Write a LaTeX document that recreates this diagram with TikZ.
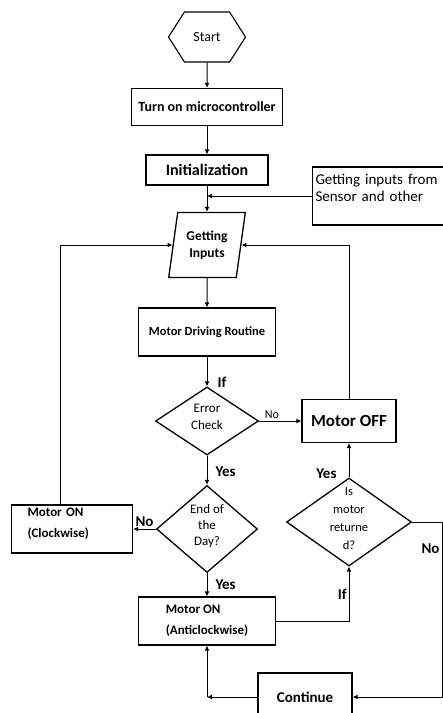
\documentclass[tikz,border=0pt]{standalone}
\usepackage{fontspec}
\setmainfont{Carlito}
\usetikzlibrary{arrows.meta,shapes.geometric,shapes.symbols}
\newcommand{\dtext}[1]{\smash{\begin{tabular}[c]{@{}c@{}}#1\end{tabular}}}
\tikzset{%
  >={Latex[width=5pt,length=5pt]},
  % Specifications for style of nodes:
            base/.style = {rectangle, draw=black, line width=1.3pt,
                           inner sep=2pt, text centered},
       startstop/.style = {base, signal, signal to=east and west,
                           signal pointer angle=115, minimum width=77pt,
                           minimum height=50pt, line width=1.1pt,
                           font=\fontsize{14}{16}\selectfont},
         process/.style = {base, font=\bfseries\fontsize{14}{16}\selectfont},
              io/.style = {base, trapezium, trapezium left angle=78,
                           trapezium right angle=102, trapezium stretches=true,
                           minimum width=77pt, minimum height=65pt,
                           font=\bfseries\fontsize{13.5}{17}\selectfont},
        decision/.style = {base, diamond, inner sep=0pt,
                           font=\fontsize{13}{16}\selectfont},
          source/.style = {base, align=left, inner sep=3pt, text width=131pt,
                           minimum height=58pt, font=\fontsize{15}{17}\selectfont},
           motor/.style = {base, align=left, minimum height=48pt,
                           font=\bfseries\fontsize{13}{21}\selectfont},
             lbl/.style = {font=\bfseries\fontsize{15}{18}\selectfont, inner sep=2pt},
}

\begin{document}
\begin{tikzpicture}[x=1pt, y=-1pt, line width=1pt,
    every node/.style={align=center}]
  \useasboundingbox (0,0) rectangle (443,713);
  \clip (0,0) rectangle (443,713);
  % Specification of nodes (position, etc.)
  \node (start)     [startstop] at (207,37) {Start};
  \node (turnon)    [process, node distance=70pt, below of=start,
                     minimum width=151pt, minimum height=37pt] {Turn on microcontroller};
  \node (init)      [process, node distance=63pt, below of=turnon,
                     minimum width=122pt, minimum height=30pt,
                     font=\bfseries\fontsize{16}{18}\selectfont] {Initialization};
  \node (getin)     [io, node distance=75pt, below of=init] {Getting\\Inputs};
  \node (routine)   [process, node distance=87pt, below of=getin,
                     minimum width=137pt, minimum height=48pt,
                     font=\bfseries\fontsize{12.5}{14}\selectfont] {Motor Driving Routine};
  \node (errchk)    [decision, node distance=89pt, below of=routine,
                     minimum width=103pt, minimum height=68pt,
                     font=\fontsize{13}{17}\selectfont] {\dtext{Error\\Check}};
  \node (endday)    [decision, node distance=108pt, below of=errchk,
                     minimum width=101pt, minimum height=87pt] {\dtext{End of\\the\\Day?}};
  \node (anticw)    [motor, node distance=92pt, below of=endday,
                     minimum width=137pt] {Motor ON\\(Anticlockwise)};
  \node (motoroff)  [process, node distance=142pt, right of=errchk,
                     minimum width=94pt, minimum height=43pt,
                     font=\bfseries\fontsize{17}{19}\selectfont] {Motor OFF};
  \node (isret)     [decision, node distance=101pt, below of=motoroff,
                     minimum width=125pt, minimum height=88pt,
                     font=\fontsize{12.5}{18}\selectfont] {\dtext{Is\\motor\\returne\\d?}};
  \node (clockwise) [motor, node distance=135pt, left of=endday,
                     minimum width=121pt, inner xsep=16pt, text width=89pt]
                     {Motor ON\\(Clockwise)\\[-8pt]\mbox{}};
  \node (continue)  [process, minimum width=94pt, minimum height=48pt,
                     font=\bfseries\fontsize{15}{17}\selectfont] at (305,697) {Continue};
  \node (sensor)    [source] at (381,196) {Getting inputs from\\Sensor and other\\ \mbox{}};
  \coordinate (rturn) at (442,520);
  \coordinate (cturn) at (continue.west -| anticw.south);
  % Specification of lines between nodes specified above
  \draw[->] (start) -- (turnon);
  \draw[->] (turnon) -- (init);
  \draw[->] (init) -- (getin);
  \draw[->] (sensor.west) -- (sensor.west -| init.south);
  \draw[->] (getin) -- (routine);
  \draw[->] (routine) -- node[lbl, pos=0.85, right=8pt] {If} (errchk);
  \draw[->] (errchk) -- node[lbl, pos=0.3, above, font=\fontsize{12}{14}\selectfont] {No} (motoroff);
  \draw[->] (errchk) -- node[lbl, pos=0.55, right=6pt] {Yes} (endday);
  \draw[->] (endday) -- node[lbl, above] {No} (clockwise);
  \draw[->] (endday) -- node[lbl, right=6pt] {Yes} (anticw);
  \draw[->] (anticw.east) -| node[lbl, pos=0.75, left] {If} (isret.south);
  \draw[->] (isret) -- node[lbl, pos=0.1, left=10pt] {Yes} (motoroff);
  \draw[->] (isret.east) -- (isret.east -| rturn)
            -- node[lbl, pos=0.15, left] {No} (rturn |- continue.east) -- (continue.east);
  \draw[->] (continue.west) -- (cturn);
  \draw[->] (cturn) -- (anticw.south);
  \draw[->] (motoroff.north) |- (getin.east);
  \draw[->] ([xshift=-12pt]clockwise.north) |- (getin.west);
\end{tikzpicture}
\end{document}
